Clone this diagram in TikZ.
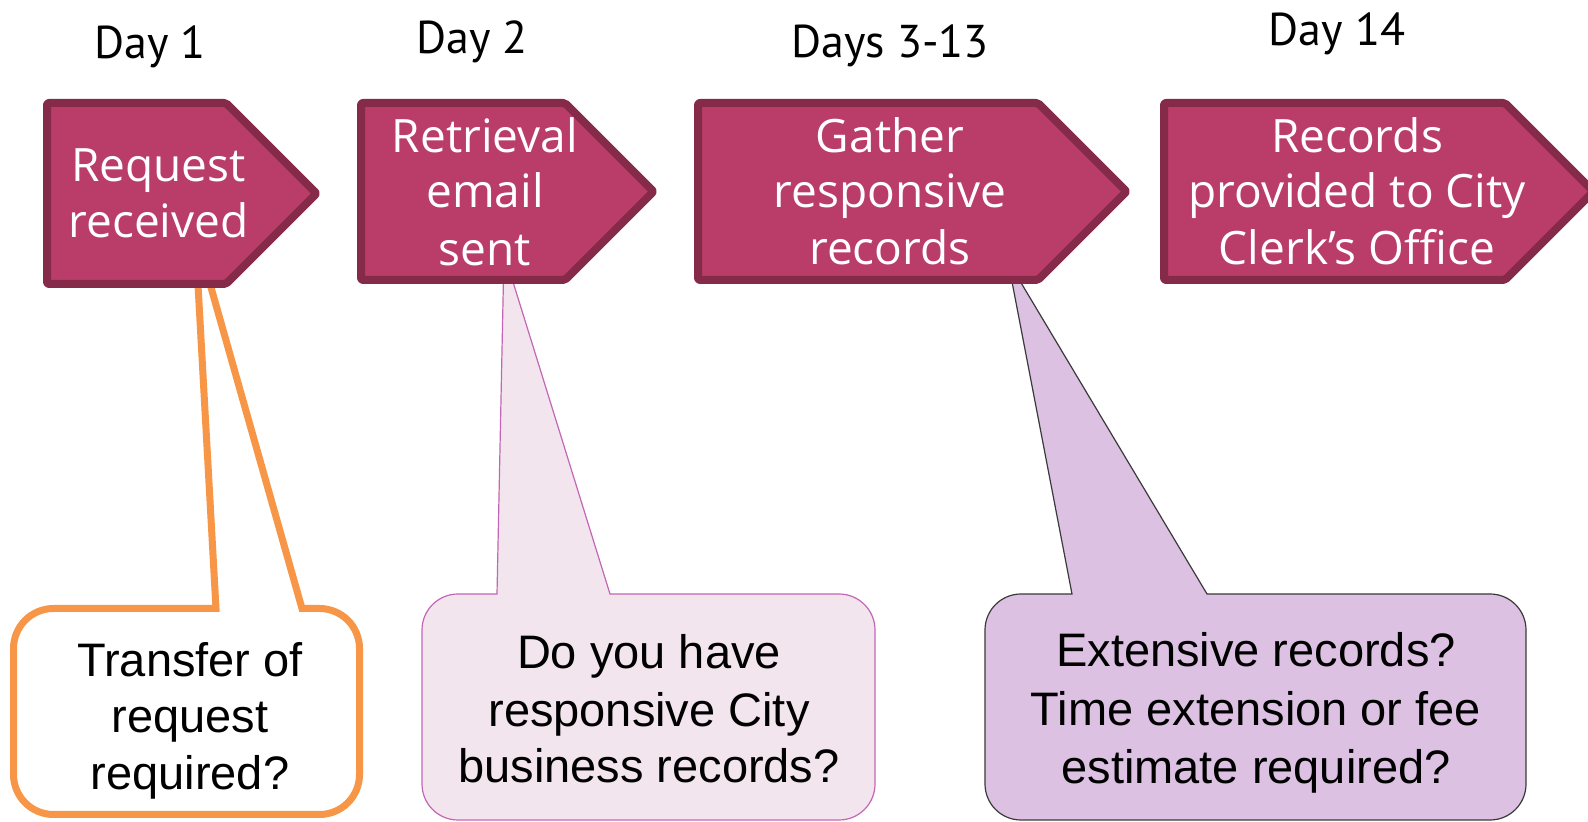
\documentclass[tikz,border=0pt]{standalone}
\usepackage{fontspec}
\setmainfont{Liberation Sans}
\newfontfamily\stepfont{Open Sans}
\newfontfamily\dayfont{PT Sans}
\definecolor{stepfill}{HTML}{B93D68}
\definecolor{stepline}{HTML}{862A4A}
\definecolor{orangeln}{HTML}{F79646}
\definecolor{pinkfill}{HTML}{F3E5EE}
\definecolor{pinkln}{HTML}{C266B5}
\definecolor{lilacfill}{HTML}{DCC1E3}
\definecolor{lilacln}{HTML}{3A3A3A}
\tikzset{
  chevron/.style={fill=stepfill, draw=stepline, line width=8pt, rounded corners=2pt, line join=round},
  steptxt/.style={font=\stepfont\fontsize{46pt}{56pt}\selectfont, text=white, anchor=base, inner sep=0pt},
  daytxt/.style={font=\dayfont\fontsize{46pt}{56pt}\selectfont, text=black, anchor=base, inner sep=0pt},
  calltxt/.style={font=\fontsize{47pt}{57pt}\selectfont, text=black, anchor=base, inner sep=0pt},
  orangecall/.style={draw=orangeln, fill=white, line width=7pt, line join=miter},
  pinkcall/.style={draw=pinkln, fill=pinkfill, line width=1.2pt},
  lilaccall/.style={draw=lilacln, fill=lilacfill, line width=1.2pt},
}
\begin{document}
\begin{tikzpicture}[x=1pt,y=1pt]
\useasboundingbox (0,0) rectangle (1588,822);
\clip (0,0) rectangle (1588,822);
\fill[white] (0,0) rectangle (1588,822);

% pointer tips (hidden behind the step arrows)
\coordinate (tip1) at (195,591);
\coordinate (tip2) at (504,569);
\coordinate (tip3) at (1008,561);

% callouts
\draw[orangecall] (216,213.5) -- (tip1) -- (302,213.5) -- (319.5,213.5)
  arc[start angle=90,end angle=0,radius=40] -- (359.5,47.5)
  arc[start angle=0,end angle=-90,radius=40] -- (53.5,7.5)
  arc[start angle=270,end angle=180,radius=40] -- (13.5,173.5)
  arc[start angle=180,end angle=90,radius=40] -- cycle;
\draw[pinkcall] (497,228) -- (tip2) -- (610,228) -- (839,228)
  arc[start angle=90,end angle=0,radius=36] -- (875,38)
  arc[start angle=0,end angle=-90,radius=36] -- (458,2)
  arc[start angle=270,end angle=180,radius=36] -- (422,192)
  arc[start angle=180,end angle=90,radius=36] -- cycle;
\draw[lilaccall] (1072,228) -- (tip3) -- (1207,228) -- (1490,228)
  arc[start angle=90,end angle=0,radius=36] -- (1526,38)
  arc[start angle=0,end angle=-90,radius=36] -- (1021,2)
  arc[start angle=270,end angle=180,radius=36] -- (985,192)
  arc[start angle=180,end angle=90,radius=36] -- cycle;

% step arrows
\draw[chevron] (47,719) -- (226,719) -- (316.5,628.5) -- (226,538) -- (47,538) -- cycle;
\draw[chevron] (361,719) -- (565,719) -- (653.5,630.5) -- (565,542) -- (361,542) -- cycle;
\draw[chevron] (698,719) -- (1038,719) -- (1126.5,630.5) -- (1038,542) -- (698,542) -- cycle;
\draw[chevron] (1164,719) -- (1505,719) -- (1593.5,630.5) -- (1505,542) -- (1164,542) -- cycle;

% day labels
\node[daytxt] (d1) at (150,763) {Day 1};
\node[daytxt] (d2) at (472,768) {Day 2};
\node[daytxt] (d3) at (890,764) {Days 3-13};
\node[daytxt] (d4) at (1337,776) {Day 14};

% step texts
\node[steptxt] (s1a) at (158.5,640.3) {Request};
\node[steptxt] (s1b) at (158.5,584) {received};
\node[steptxt] (s2a) at (485,669.3) {Retrieval};
\node[steptxt] (s2b) at (485,614) {email};
\node[steptxt] (s2c) at (485,556) {sent};
\node[steptxt] (s3a) at (890,669) {Gather};
\node[steptxt] (s3b) at (890,614) {responsive};
\node[steptxt] (s3c) at (890,557) {records};
\node[steptxt] (s4a) at (1357,669) {Records};
\node[steptxt] (s4b) at (1357,614) {provided to City};
\node[steptxt] (s4c) at (1357,557) {Clerk’s Office};

% callout texts
\node[calltxt] (c1a) at (190,145) {Transfer of};
\node[calltxt] (c1b) at (190,89) {request};
\node[calltxt] (c1c) at (190,32) {required?};
\node[calltxt] (c2a) at (649,153) {Do you have};
\node[calltxt] (c2b) at (649,95) {responsive City};
\node[calltxt] (c2c) at (649,39) {business records?};
\node[calltxt] (c3a) at (1256,155) {Extensive records?};
\node[calltxt] (c3b) at (1256,96) {Time extension or fee};
\node[calltxt] (c3c) at (1256,38) {estimate required?};
\end{tikzpicture}
\end{document}
